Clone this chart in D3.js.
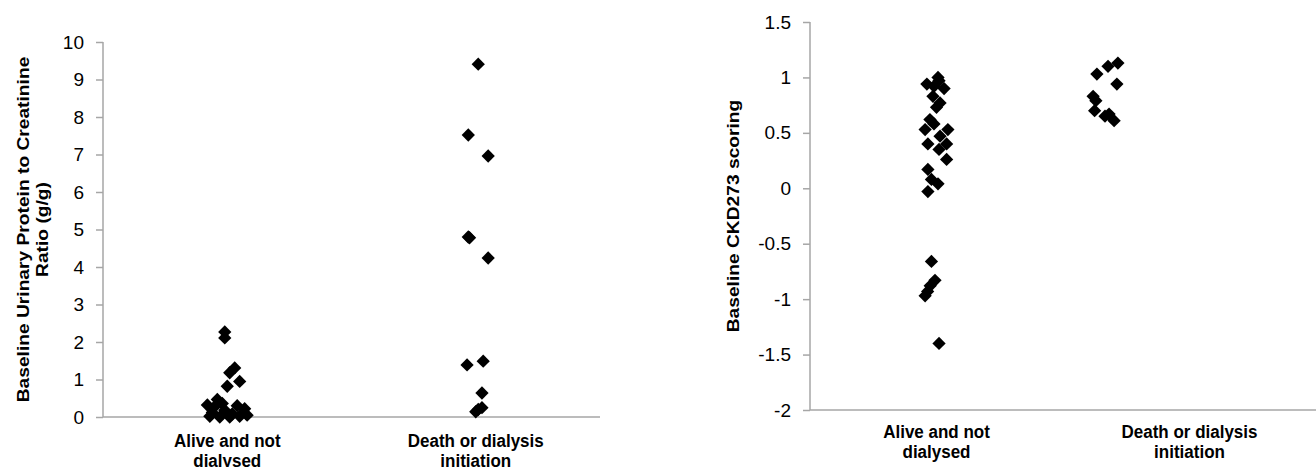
<!DOCTYPE html>
<html>
<head>
<meta charset="utf-8">
<script src="https://cdn.jsdelivr.net/npm/d3@7"></script>
<style>
  body { margin: 0; background: #fff; }
  text { font-family: "Liberation Sans", Arial, sans-serif; fill: #000; }
</style>
</head>
<body>
<svg id="chart" width="1316" height="467"></svg>
<script>
// categories (x = 1, 2)
var categories = [['Alive and not', 'dialysed'], ['Death or dialysis', 'initiation']];

// left panel: urinary protein / creatinine ratio, [x jitter, value]
var upcrAlive = [
  [0.99, 2.27], [0.99, 2.11], [1.03, 1.31], [1.01, 1.18], [1.05, 0.95],
  [1.00, 0.82], [0.96, 0.47], [0.92, 0.32], [0.98, 0.36], [1.04, 0.30],
  [1.07, 0.22], [0.94, 0.12], [0.99, 0.18], [1.02, 0.08], [0.93, 0.02],
  [0.97, 0.00], [1.01, 0.00], [1.05, 0.02], [0.95, 0.28], [1.08, 0.05]
];
var upcrDeath = [
  [2.01, 9.41], [1.97, 7.52], [2.05, 6.96], [1.97, 4.80], [1.975, 4.78],
  [2.05, 4.24], [1.965, 1.39], [2.03, 1.49], [2.025, 0.64], [2.01, 0.20],
  [2.025, 0.25], [2.00, 0.14]
];
var upcrTicks = [0, 1, 2, 3, 4, 5, 6, 7, 8, 9, 10];

// right panel: CKD273 scoring
var ckdAlive = [
  [1.006, 1.00], [0.962, 0.94], [1.03, 0.90], [0.99, 0.92], [1.01, 0.97],
  [0.986, 0.83], [1.014, 0.77], [1.00, 0.73], [0.974, 0.62], [0.99, 0.58],
  [0.955, 0.53], [1.045, 0.53], [1.014, 0.47], [1.04, 0.40], [0.966, 0.40],
  [1.01, 0.35], [1.04, 0.26], [0.966, 0.17], [0.98, 0.08], [1.006, 0.04],
  [0.966, -0.03], [0.98, -0.66], [0.994, -0.83], [0.975, -0.88], [0.965, -0.93],
  [0.955, -0.97], [1.01, -1.40]
];
var ckdDeath = [
  [1.717, 1.13], [1.678, 1.10], [1.634, 1.03], [1.713, 0.94], [1.619, 0.83],
  [1.630, 0.79], [1.625, 0.70], [1.666, 0.65], [1.682, 0.67], [1.702, 0.61]
];
var ckdTicks = [-2, -1.5, -1, -0.5, 0, 0.5, 1, 1.5];

var svg = d3.select('#chart');
var axisColor = '#a6a6a6';
var stretch = 1.13; // the original picture is a little taller than wide

function drawPanel(opts) {
  var g = svg.append('g');
  var x = d3.scaleLinear().domain([0.5, 2.5]).range([opts.left, opts.right]);
  var y = d3.scaleLinear().domain(opts.yDomain).range([opts.bottom, opts.top]);

  // y axis
  var yAxis = g.append('g')
      .attr('transform', 'translate(' + opts.left + ',0)')
      .attr('font-size', 19)
      .attr('font-family', null)
      .call(d3.axisLeft(y).tickValues(opts.ticks).tickSize(7).tickPadding(12)
              .tickFormat(d => String(d)));
  yAxis.attr('font-size', 19).attr('font-family', null);
  yAxis.select('.domain').attr('stroke', axisColor).attr('stroke-width', 1.5)
      .attr('d', 'M0,' + y(opts.yDomain[1]) + 'V' + y(opts.yDomain[0]));
  yAxis.selectAll('.tick line').attr('stroke', axisColor).attr('stroke-width', 1.5);
  yAxis.selectAll('.tick text').attr('fill', '#000');

  // x axis line
  g.append('line')
      .attr('x1', opts.left).attr('x2', opts.right)
      .attr('y1', y(opts.yDomain[0])).attr('y2', y(opts.yDomain[0]))
      .attr('stroke', axisColor).attr('stroke-width', 1.5);

  // category labels
  categories.forEach(function(lines, i) {
    var t = g.append('text')
        .attr('font-size', 17).attr('font-weight', 'bold')
        .attr('text-anchor', 'middle')
        .attr('transform', 'translate(' + x(i + 1) + ',' + (opts.bottom + opts.catOffset) + ') scale(1,' + stretch + ')');
    lines.forEach(function(l, j) {
      t.append('tspan').attr('x', 0).attr('dy', j === 0 ? 0 : 17.5).text(l);
    });
  });

  // y axis title
  var title = g.append('text')
      .attr('font-size', 17).attr('font-weight', 'bold')
      .attr('text-anchor', 'middle')
      .attr('transform', 'translate(' + opts.titleX + ',' + ((opts.top + opts.bottom) / 2) + ') rotate(-90) scale(' + stretch + ',1)');
  opts.title.forEach(function(l, j) {
    title.append('tspan').attr('x', 0).attr('dy', j === 0 ? 0 : 19).text(l);
  });

  // points
  var sym = d3.symbol().type(d3.symbolSquare).size(88);
  g.selectAll('.pt')
      .data(opts.data)
      .enter()
      .append('path')
      .classed('pt', true)
      .attr('d', sym)
      .attr('fill', '#000')
      .attr('transform', d => 'translate(' + x(d[0]) + ',' + y(d[1]) + ') rotate(45)');
}

drawPanel({
  left: 103, right: 600, top: 42, bottom: 417,
  yDomain: [0, 10], ticks: upcrTicks,
  data: upcrAlive.concat(upcrDeath),
  title: ['Baseline Urinary Protein to Creatinine', 'Ratio (g/g)'],
  titleX: 29, catOffset: 30
});

drawPanel({
  left: 810, right: 1316, top: 22, bottom: 410,
  yDomain: [-2, 1.5], ticks: ckdTicks,
  data: ckdAlive.concat(ckdDeath),
  title: ['Baseline CKD273 scoring'],
  titleX: 739, catOffset: 28
});
</script>
</body>
</html>
